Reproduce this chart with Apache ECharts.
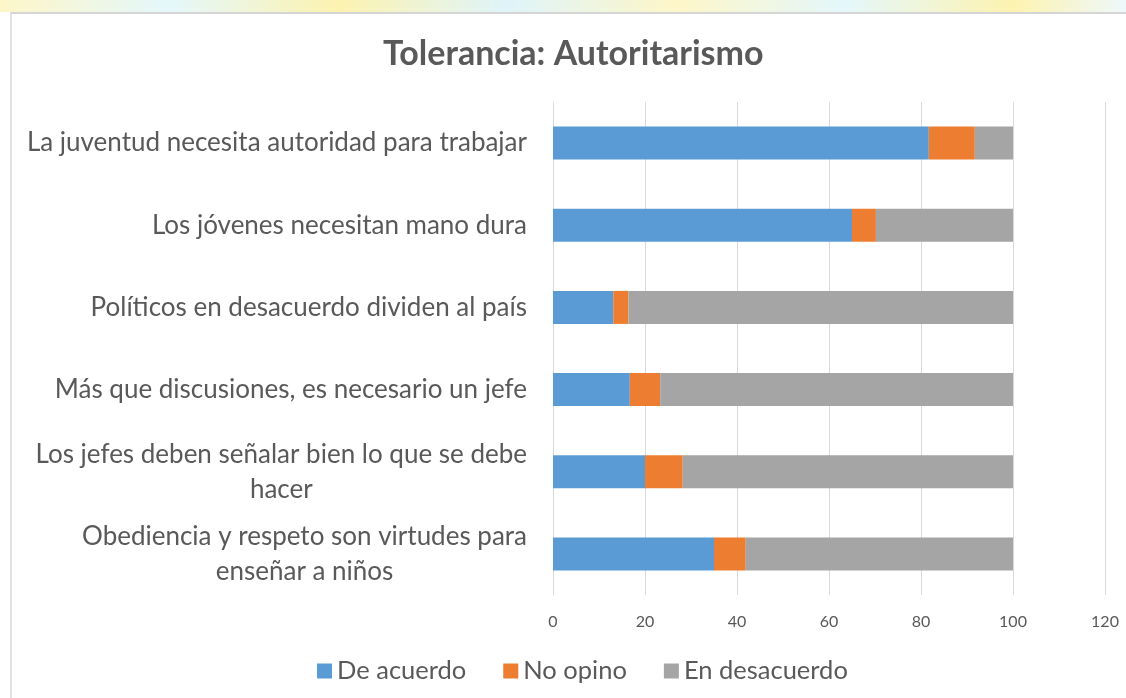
<!DOCTYPE html>
<html>
<head>
<meta charset="utf-8">
<script src="https://cdn.jsdelivr.net/npm/echarts@6/dist/echarts.min.js"></script>
<style>
  html, body { margin: 0; padding: 0; background: #ffffff; }
  #strip { position: absolute; left: 0; top: 0; width: 1126px; height: 12px;
    background: linear-gradient(90deg, #fdf6c8 0%, #e4f7fb 15%, #fdf3b0 30%, #dff4fa 45%, #fdf6c8 60%, #e4f7fb 75%, #fdf3b0 90%, #eef8fb 100%); }
  #frame { position: absolute; left: 10px; top: 12px; width: 1116px; height: 686px;
    border-top: 2px solid #d6d6d6; border-left: 2px solid #e2e2e2; box-sizing: border-box; background: #fff; }
  #chart { position: absolute; left: 0; top: 0; width: 1126px; height: 698px; }
</style>
</head>
<body>
<div id="strip"></div>
<div id="frame"></div>
<div id="chart"></div>
<script>
const titleText = 'Tolerancia: Autoritarismo';
const categories = [
  'La juventud necesita autoridad para trabajar',
  'Los jóvenes necesitan mano dura',
  'Políticos en desacuerdo dividen al país',
  'Más que discusiones, es necesario un jefe',
  'Los jefes deben señalar bien lo que se debe\nhacer',
  'Obediencia y respeto son virtudes para\nenseñar a niños'
];
const seriesNames = ['De acuerdo', 'No opino', 'En desacuerdo'];
const deAcuerdo = [81.7, 65.0, 13.1, 16.7, 20.0, 35.0];
const noOpino = [10.0, 5.2, 3.3, 6.6, 8.2, 6.9];
const enDesacuerdo = [8.3, 29.8, 83.6, 76.7, 71.8, 58.1];
const xTicks = [0, 20, 40, 60, 80, 100, 120];

const colors = ['#5B9BD5', '#ED7D31', '#A5A5A5'];
const textColor = '#595959';
const fontFam = 'Lato, "Open Sans", sans-serif';

const chart = echarts.init(document.getElementById('chart'), null, { renderer: 'canvas' });
const dataSets = [deAcuerdo, noOpino, enDesacuerdo];

chart.setOption({
  backgroundColor: 'transparent',
  animation: false,
  color: colors,
  title: {
    text: titleText,
    left: 378,
    top: 32,
    textStyle: { fontFamily: fontFam, fontSize: 34, fontWeight: 'bold', color: textColor }
  },
  legend: {
    top: 653,
    left: 312,
    itemWidth: 15,
    itemHeight: 15,
    itemGap: 37,
    icon: 'rect',
    textStyle: { fontFamily: fontFam, fontSize: 25.5, color: textColor },
    data: seriesNames
  },
  grid: { left: 553, right: 21, top: 102, bottom: 103, containLabel: false },
  xAxis: {
    type: 'value',
    min: xTicks[0],
    max: xTicks[xTicks.length - 1],
    interval: 20,
    axisLine: { show: false },
    axisTick: { show: false },
    splitLine: { show: true, lineStyle: { color: '#d9d9d9', width: 1 } },
    axisLabel: { color: textColor, fontFamily: fontFam, fontSize: 16, margin: 19 }
  },
  yAxis: {
    type: 'category',
    inverse: true,
    data: categories,
    axisLine: { show: true, lineStyle: { color: '#d9d9d9' } },
    axisTick: { show: false },
    axisLabel: {
      color: textColor,
      fontFamily: fontFam,
      fontSize: 26,
      margin: 26,
      lineHeight: 35,
      formatter: function (v) {
        return v.split('\n').map(function (s) { return '{c|' + s + '}'; }).join('\n');
      },
      rich: { c: { align: 'center', color: textColor, fontFamily: fontFam, fontSize: 26, lineHeight: 35 } }
    }
  },
  series: seriesNames.map(function (name, i) {
    return {
      name: name,
      type: 'bar',
      stack: 'total',
      barWidth: 33,
      data: dataSets[i],
      itemStyle: { color: colors[i] }
    };
  })
});
</script>
</body>
</html>
